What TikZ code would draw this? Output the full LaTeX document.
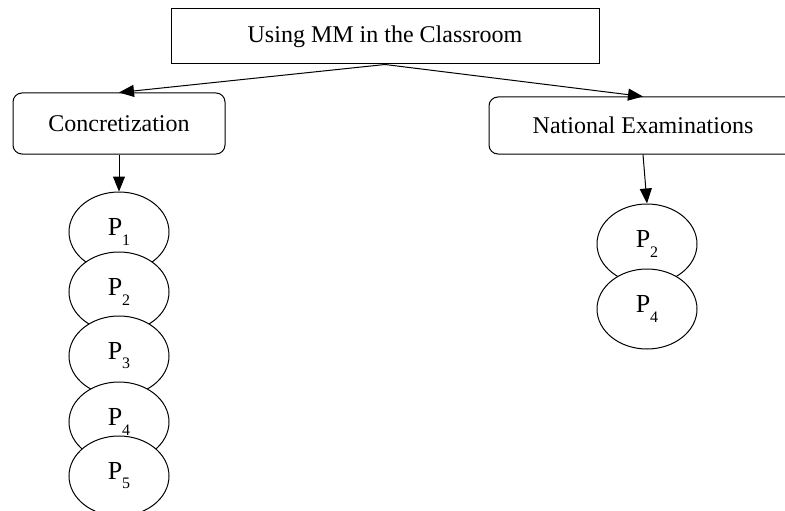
\documentclass[tikz,border=0pt]{standalone}
\usepackage{fontspec}
\setmainfont{Liberation Serif}
\usetikzlibrary{positioning,shapes.geometric,arrows.meta}

\newcommand{\psub}[1]{P\raisebox{-0.35em}{\fontsize{16}{16}\selectfont #1}}

\begin{document}
\begin{tikzpicture}[>={Triangle[length=15pt,width=12pt]}, line width=1pt]
	\tikzset{
	    textfont/.style={font=\fontsize{24}{28}\selectfont},
	    titlebox/.style={draw, textfont, minimum width=428pt, minimum height=55pt},
	    groupbox/.style={draw, rounded corners=9pt, textfont},
	    pnode/.style={draw, ellipse, fill=white, font=\fontsize{26}{30}\selectfont, minimum width=100pt, minimum height=80pt, inner sep=0pt}
	}
	\useasboundingbox (0,0) rectangle (785pt,-511pt);

	\node[titlebox] (title) at (385pt,-36.5pt) {Using MM in the Classroom};
	\node[groupbox, minimum width=212pt, minimum height=61pt] (conc) at (119pt,-123.5pt) {Concretization};
	\node[groupbox, minimum width=308pt, minimum height=57pt] (natex) at (643pt,-125.5pt) {National Examinations};

	% left column
	\node[pnode, below=37pt of conc] (lp1) {\psub{1}};
	\node[pnode, below=-21pt of lp1] (lp2) {\psub{2}};
	\node[pnode, below=-17pt of lp2] (lp3) {\psub{3}};
	\node[pnode, below=-15pt of lp3] (lp4) {\psub{4}};
	\node[pnode, below=-27pt of lp4] (lp5) {\psub{5}};

	% right column
	\node[pnode, below=49pt of natex, xshift=4pt] (rp2) {\psub{2}};
	\node[pnode, below=-16pt of rp2] (rp4) {\psub{4}};

	\draw[->] (title.south) -- (conc.north);
	\draw[->] (title.south) -- (natex.north);
	\draw[->] (conc.south) -- (lp1.north);
	\draw[->] (natex.south) -- (rp2.north);
\end{tikzpicture}
\end{document}
